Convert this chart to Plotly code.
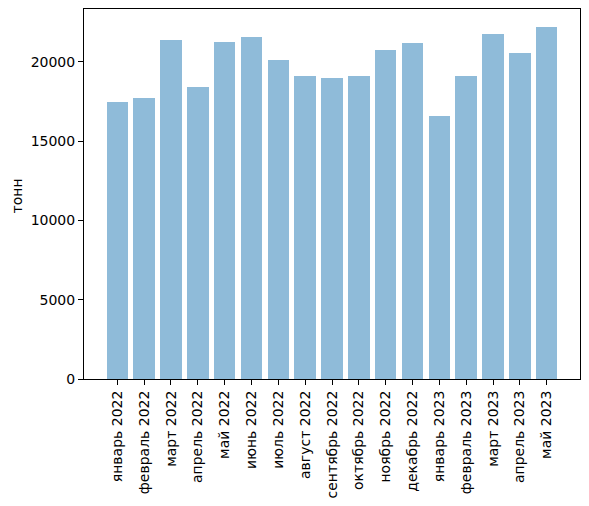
import plotly.graph_objects as go

months = ["январь 2022", "февраль 2022", "март 2022", "апрель 2022", "май 2022",
          "июнь 2022", "июль 2022", "август 2022", "сентябрь 2022", "октябрь 2022",
          "ноябрь 2022", "декабрь 2022", "январь 2023", "февраль 2023", "март 2023",
          "апрель 2023", "май 2023"]
tonnes = [17470, 17720, 21380, 18410, 21250, 21560, 20110, 19100, 18980, 19100,
          20740, 21190, 16580, 19100, 21750, 20560, 22190]

fig = go.Figure()
fig.add_trace(go.Bar(
    x=list(range(len(months))),
    y=tonnes,
    width=0.8,
    marker=dict(color="#1f77b4", opacity=0.5, line=dict(width=0)),
))

axis_style = dict(
    showline=True, linecolor="black", linewidth=1, mirror=True,
    ticks="outside", ticklen=5, tickwidth=1, tickcolor="black",
    showgrid=False, zeroline=False,
    tickfont=dict(family="DejaVu Sans", size=14, color="black"),
)

fig.update_layout(
    width=589, height=506,
    margin=dict(l=84, r=9, t=9, b=127),
    plot_bgcolor="white", paper_bgcolor="white",
    showlegend=False,
    bargap=0,
    font=dict(family="DejaVu Sans", size=14, color="black"),
    xaxis=dict(
        axis_style,
        range=[-1.24, 17.24],
        tickmode="array",
        tickvals=list(range(len(months))),
        ticktext=months,
        tickangle=-90,
        automargin=False,
    ),
    yaxis=dict(
        axis_style,
        range=[0, 23330],
        tickvals=[0, 5000, 10000, 15000, 20000],
        ticktext=["0", "5000", "10000", "15000", "20000"],
        automargin=False,
    ),
)

# y-axis label placed by hand so it sits where matplotlib put it
fig.add_annotation(
    text="тонн", textangle=-90, showarrow=False,
    xref="paper", yref="paper", x=-0.136, y=0.495,
    xanchor="center", yanchor="middle",
    font=dict(family="DejaVu Sans", size=14, color="black"),
)

fig.write_html("out.html", config={"displayModeBar": False},
               post_script="document.body.style.margin='0';")
